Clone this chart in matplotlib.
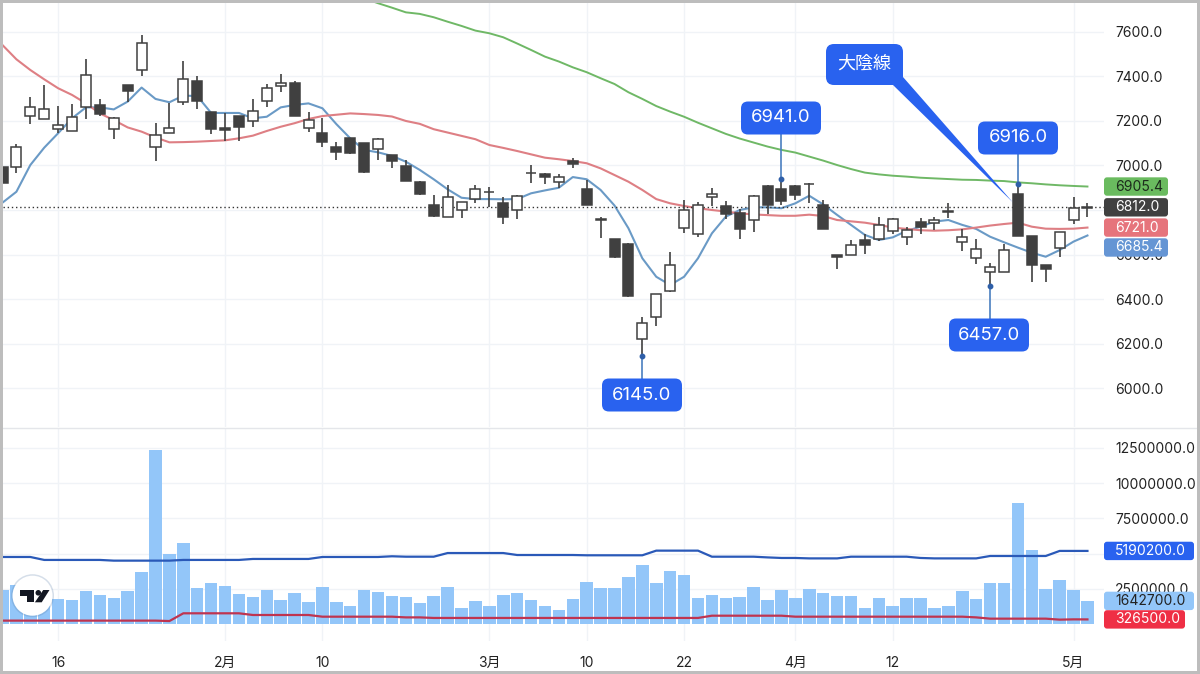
import matplotlib
matplotlib.use('Agg')
import matplotlib.pyplot as plt
import numpy as np
from matplotlib.patches import FancyBboxPatch, Polygon, Circle, Rectangle

plt.rcParams['font.family'] = ['Inter', 'Noto Sans CJK JP', 'DejaVu Sans']

# daily prices
opens = [6995, 6992, 7222, 7210, 7164, 7154, 7261, 7270, 7163, 7363, 7428, 7085, 7146, 7284, 7380, 7239,
         7169, 7222, 7198, 7288, 7356, 7371, 7170, 7145, 7082, 7122, 7101, 7076, 7047, 6998, 6926, 6821,
         6767, 6798, 6848, 6880, 6833, 6798, 6964, 6962, 6924, 7019, 6896, 6759, 6671, 6647, 6219, 6318,
         6437, 6718, 6694, 6857, 6816, 6785, 6755, 6908, 6896, 6906, 6918, 6824, 6596, 6599, 6665, 6668,
         6707, 6677, 6745, 6740, 6793, 6658, 6583, 6521, 6523, 6870, 6682, 6554, 6628, 6754, 6810]
highs = [6995, 7097, 7306, 7362, 7269, 7275, 7477, 7297, 7216, 7363, 7585, 7190, 7282, 7468, 7402, 7242,
         7235, 7222, 7297, 7366, 7410, 7378, 7239, 7212, 7106, 7125, 7101, 7122, 7047, 7025, 6929, 6866,
         6911, 6834, 6914, 6905, 6857, 6866, 7001, 6965, 6960, 7034, 6935, 6767, 6671, 6650, 6318, 6424,
         6611, 6845, 6834, 6897, 6839, 6806, 6866, 6914, 6941, 6914, 6923, 6845, 6596, 6665, 6692, 6767,
         6764, 6725, 6763, 6770, 6830, 6715, 6671, 6563, 6646, 6916, 6682, 6554, 6700, 6860, 6830]
lows = [6923, 6968, 7185, 7210, 7145, 7154, 7207, 7222, 7118, 7287, 7404, 7019, 7146, 7270, 7252, 7142,
        7109, 7112, 7175, 7264, 7332, 7221, 7152, 7083, 7023, 7050, 6968, 7025, 6990, 6929, 6866, 6770,
        6767, 6764, 6830, 6812, 6739, 6760, 6923, 6917, 6900, 6990, 6822, 6674, 6583, 6408, 6145, 6280,
        6430, 6698, 6680, 6818, 6761, 6668, 6701, 6782, 6821, 6845, 6833, 6716, 6533, 6599, 6604, 6662,
        6692, 6641, 6694, 6710, 6764, 6617, 6556, 6457, 6521, 6682, 6476, 6476, 6590, 6739, 6770]
closes = [6923, 7082, 7261, 7255, 7184, 7217, 7405, 7233, 7212, 7333, 7549, 7139, 7167, 7387, 7288, 7166,
          7158, 7175, 7243, 7347, 7371, 7221, 7203, 7104, 7062, 7056, 6972, 7118, 7022, 6929, 6872, 6773,
          6857, 6834, 6893, 6882, 6767, 6863, 6966, 6947, 6950, 7008, 6822, 6757, 6589, 6415, 6294, 6424,
          6554, 6800, 6822, 6873, 6782, 6715, 6863, 6824, 6842, 6867, 6916, 6716, 6587, 6641, 6641, 6731,
          6761, 6710, 6725, 6755, 6795, 6680, 6626, 6545, 6619, 6682, 6554, 6536, 6700, 6808, 6812]

# moving averages on the price pane
ma_short = [6833, 6882, 7002, 7080, 7145, 7212, 7261, 7261, 7252, 7287, 7350, 7299, 7284, 7314, 7312, 7236,
            7236, 7236, 7212, 7219, 7261, 7272, 7279, 7257, 7186, 7122, 7070, 7059, 7043, 7017, 6980, 6938,
            6893, 6855, 6849, 6849, 6848, 6849, 6875, 6888, 6900, 6948, 6938, 6890, 6820, 6718, 6583, 6500,
            6463, 6500, 6583, 6695, 6770, 6800, 6812, 6812, 6808, 6830, 6864, 6825, 6778, 6733, 6688, 6665,
            6677, 6706, 6725, 6748, 6755, 6733, 6715, 6680, 6655, 6631, 6608, 6590, 6620, 6658, 6685.4]
ma_mid = [7541, 7477, 7429, 7387, 7347, 7317, 7279, 7234, 7204, 7171, 7152, 7126, 7104, 7105, 7107, 7110,
          7113, 7122, 7134, 7155, 7174, 7190, 7209, 7222, 7228, 7234, 7231, 7227, 7220, 7200, 7187, 7163,
          7148, 7133, 7118, 7092, 7079, 7065, 7050, 7035, 7028, 7020, 7010, 6987, 6957, 6927, 6890, 6849,
          6830, 6818, 6808, 6800, 6793, 6785, 6780, 6777, 6774, 6774, 6779, 6773, 6755, 6749, 6743, 6733,
          6721, 6715, 6709, 6707, 6709, 6713, 6721, 6730, 6737, 6743, 6725, 6716, 6715, 6716, 6721]
ma_long_start = 26
ma_long = [7751, 7729, 7709, 7688, 7681, 7666, 7646, 7627, 7606, 7594, 7576, 7548, 7519, 7489, 7467, 7441,
           7419, 7392, 7366, 7329, 7299, 7267, 7242, 7219, 7192, 7167, 7142, 7121, 7103, 7085, 7070, 7058,
           7040, 7022, 7002, 6984, 6968, 6960, 6954, 6950, 6945, 6942, 6939, 6936, 6935, 6932, 6930, 6924,
           6920, 6915, 6911, 6908, 6905.4]

# volume pane
volume = [2.41, 2.77, 2.00, 1.85, 1.78, 1.70, 2.32, 2.06, 1.87, 2.34, 3.67, 12.36, 5.00, 5.75, 2.56, 2.89,
          2.72, 2.11, 1.89, 2.41, 1.73, 2.18, 1.56, 2.60, 1.54, 1.28, 2.41, 2.25, 2.01, 1.89, 1.47, 2.01,
          2.63, 1.16, 1.63, 1.28, 2.06, 2.18, 1.70, 1.30, 1.02, 1.75, 2.98, 2.56, 2.56, 3.36, 4.21, 2.91,
          3.79, 3.50, 1.82, 2.08, 1.82, 1.92, 2.63, 1.73, 2.41, 1.85, 2.49, 2.20, 2.01, 1.99, 1.11, 1.82,
          1.28, 1.82, 1.82, 1.16, 1.28, 2.34, 1.78, 2.89, 2.89, 8.57, 5.26, 2.49, 3.15, 2.41, 1.6427]
vol_high = [4.76, 4.76, 4.76, 4.55, 4.55, 4.55, 4.55, 4.55, 4.50, 4.50, 4.50, 4.50, 4.50, 4.55, 4.55, 4.55,
            4.55, 4.55, 4.62, 4.62, 4.62, 4.62, 4.62, 4.76, 4.76, 4.76, 4.76, 4.76, 4.81, 4.78, 4.78, 4.78,
            5.04, 5.04, 5.04, 5.04, 5.04, 4.90, 4.90, 4.90, 4.90, 4.90, 4.88, 4.88, 4.88, 4.88, 4.88, 5.21,
            5.21, 5.21, 5.21, 4.78, 4.78, 4.78, 4.78, 4.73, 4.69, 4.69, 4.66, 4.66, 4.66, 4.78, 4.78, 4.78,
            4.78, 4.78, 4.69, 4.66, 4.66, 4.66, 4.66, 4.83, 4.83, 4.83, 4.83, 4.83, 5.19, 5.19, 5.1902]
vol_low = [0.24, 0.24, 0.24, 0.24, 0.24, 0.24, 0.24, 0.24, 0.24, 0.24, 0.24, 0.24, 0.21, 0.76, 0.76, 0.76,
           0.76, 0.76, 0.64, 0.64, 0.64, 0.64, 0.64, 0.52, 0.52, 0.52, 0.52, 0.52, 0.52, 0.47, 0.47, 0.43,
           0.43, 0.43, 0.43, 0.43, 0.43, 0.43, 0.43, 0.43, 0.43, 0.43, 0.43, 0.43, 0.43, 0.43, 0.43, 0.43,
           0.43, 0.43, 0.43, 0.59, 0.59, 0.59, 0.59, 0.59, 0.59, 0.52, 0.52, 0.52, 0.52, 0.52, 0.52, 0.52,
           0.52, 0.52, 0.52, 0.52, 0.52, 0.52, 0.47, 0.38, 0.38, 0.38, 0.38, 0.38, 0.31, 0.33, 0.3265]

# axis ticks, the 6800 and 5000000 labels sit fully under the price tags
price_ticks = [6000, 6200, 6400, 6600, 6800, 7000, 7200, 7400, 7600]
price_labels = ['6000.0', '6200.0', '6400.0', '6600.0', '', '7000.0', '7200.0', '7400.0', '7600.0']
vol_ticks = [2.5, 5, 7.5, 10, 12.5]
vol_labels = ['2500000.0', '', '7500000.0', '10000000.0', '12500000.0']
date_pos = [4, 16, 23, 35, 42, 49, 57, 64, 77]
date_labels = ['16', '2月', '10', '3月', '10', '22', '4月', '12', '5月']

DARK = '#404040'
GRID = '#f0f3f7'
CALLOUT = '#2962ef'
W, H = 1200, 674

fig = plt.figure(figsize=(12, 6.74), dpi=100, facecolor='white')


def px_axes(x0, y0, x1, y1):
    # axes from pixel box, y measured from the top of the picture
    return fig.add_axes([x0 / W, 1 - y1 / H, (x1 - x0) / W, (y1 - y0) / H])


ax = px_axes(3, 3, 1104, 427)
vx = px_axes(3, 428, 1104, 641)
idx = np.arange(len(closes))

for a in (ax, vx):
    a.set_xlim(0.036, 79.19)
    a.set_xticks(date_pos)
    a.grid(True, color=GRID, lw=1)
    a.set_axisbelow(True)
    a.yaxis.tick_right()
    a.tick_params(length=0, labelsize=10, colors='#222222', pad=8)
    for s in a.spines.values():
        s.set_visible(False)

ax.set_ylim(5825, 7730)
ax.set_yticks(price_ticks)
ax.set_yticklabels(price_labels)
ax.set_xticklabels([])

vx.set_ylim(-1.207, 13.92)
vx.set_yticks(vol_ticks)
vx.set_yticklabels(vol_labels)
vx.set_xticks(date_pos)
vx.set_xticklabels(date_labels)
vx.tick_params(axis='x', pad=11)

# price pane
ax.plot(idx, ma_short, color='#6a9ac6', lw=1.5, zorder=2)
ax.plot(idx, ma_mid, color='#de7f84', lw=1.5, zorder=2)
ax.plot(idx[ma_long_start:], ma_long, color='#6fb866', lw=1.4, zorder=2)
ax.axhline(closes[-1], color='#333333', lw=1, ls=(0, (1, 2)), zorder=2)

o = np.array(opens)
c = np.array(closes)
falling = c < o
ax.vlines(idx, lows, highs, color=DARK, lw=1.2, zorder=3)
ax.bar(idx, np.abs(c - o), bottom=np.minimum(o, c), width=0.72,
       color=np.where(falling, DARK, 'white'), edgecolor=DARK, linewidth=1.1, zorder=4)

# volume pane
vx.bar(idx, volume, width=0.9, color='#93c6f9', zorder=2)
vx.plot(idx, vol_high, color='#2a59b8', lw=1.6, zorder=3)
vx.plot(idx, vol_low, color='#bf3450', lw=1.6, zorder=3)

# overlay in picture pixels for callouts, price tags, logo and frame
ov = fig.add_axes([0, 0, 1, 1], facecolor='none')
ov.set_xlim(0, W)
ov.set_ylim(H, 0)
ov.axis('off')
fig.canvas.draw()


def to_px(a, x, y):
    dx, dy = a.transData.transform((x, y))
    return dx, H - dy


def rbox(x0, y0, w, h, fc, r=6, z=5):
    ov.add_patch(FancyBboxPatch((x0, y0), w, h, boxstyle='round,pad=0,rounding_size=%s' % r,
                                fc=fc, ec='none', zorder=z))


def callout(i, value, cx, cy):
    x, y = to_px(ax, i, value)
    ov.plot([x, x], [y, cy], color='#4a7fc0', lw=1.2, zorder=5)
    ov.plot([x], [y], 'o', color='#2f5fa8', ms=3.2, zorder=6)
    rbox(cx - 40, cy - 16.5, 80, 33, CALLOUT, r=7, z=7)
    ov.text(cx, cy, '%.1f' % value, color='white', fontsize=13.3, ha='center', va='center', zorder=8)


callout(46, 6145.0, 642, 395)
callout(56, 6941.0, 781, 118)
callout(73, 6916.0, 1018, 138)
callout(71, 6457.0, 989, 335)

# big bearish candle note
tx, ty = to_px(ax, 73, opens[73])
ov.add_patch(Polygon([(893, 85), (903, 77), (tx - 5, ty + 8)], closed=True, fc=CALLOUT, ec='none', zorder=6))
rbox(826, 44, 77, 41, CALLOUT, r=8, z=7)
ov.text(864.5, 64, '大陰線', color='white', fontsize=13, ha='center', va='center', zorder=8)


def tag(a, value, text, fc, tc, w, dy=0, fmt_x=1115):
    _, y = to_px(a, 0, value)
    y += dy
    rbox(1104, y - 9.2, w, 18.4, fc, r=3, z=5)
    ov.text(fmt_x, y, text, color=tc, fontsize=10, ha='left', va='center', zorder=6)


tag(ax, ma_long[-1], '%.1f' % ma_long[-1], '#6abb5f', '#1c2b1c', 64)
tag(ax, closes[-1], '%.1f' % closes[-1], DARK, 'white', 64)
tag(ax, ma_mid[-1], '%.1f' % ma_mid[-1], '#e6747c', 'white', 64)
tag(ax, ma_short[-1], '%.1f' % ma_short[-1], '#6595d4', 'white', 64, dy=12)
tag(vx, vol_high[-1], '%.1f' % (vol_high[-1] * 1000000), '#2962ef', 'white', 90)
tag(vx, volume[-1], '%.1f' % (volume[-1] * 1000000), '#93c6f9', '#222222', 90)
tag(vx, vol_low[-1], '%.1f' % (vol_low[-1] * 1000000), '#ef2f45', 'white', 81)

# logo
ov.add_patch(Circle((32.5, 595.7), 21.5, fc='#5a7fa8', alpha=0.25, ec='none', zorder=5))
ov.add_patch(Circle((32.5, 595.7), 20, fc='white', ec='none', zorder=6))
ov.add_patch(Polygon([(20, 590), (34.3, 590), (34.3, 602.3), (27.3, 602.3), (27.3, 595.7), (20, 595.7)],
                     closed=True, fc='#131722', ec='none', zorder=7))
ov.add_patch(Polygon([(43.2, 590), (49.5, 590), (41.7, 602.3), (34.9, 602.3)],
                     closed=True, fc='#131722', ec='none', zorder=7))
ov.add_patch(Circle((38.3, 592.8), 2.8, fc='#131722', ec='none', zorder=7))

# grey photo frame
frame = '#bdbdbd'
for x0, y0, w, h in [(0, 0, W, 3), (0, 671, W, 3), (0, 0, 3, H), (1197, 0, 3, H)]:
    ov.add_patch(Rectangle((x0, y0), w, h, fc=frame, ec='none', zorder=10))
# pane separator
ov.plot([3, 1197], [427.5, 427.5], color='#e4e6ea', lw=1, zorder=1)

fig.savefig('out.png', dpi=100, facecolor='white')
